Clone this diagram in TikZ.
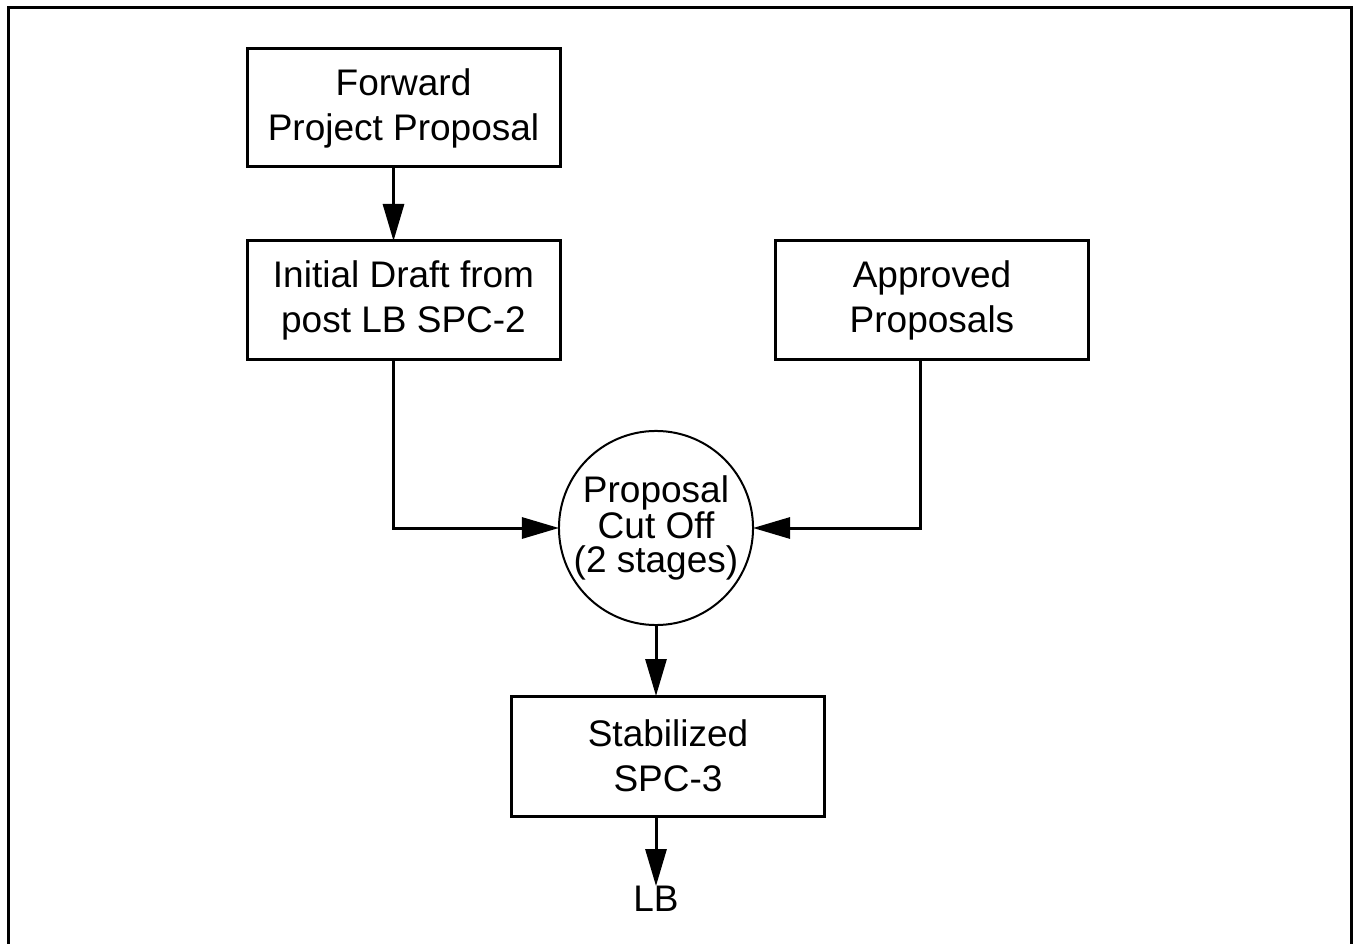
\documentclass[tikz,border=0pt]{standalone}
\usepackage{fontspec}
\setmainfont{Liberation Sans}
\usetikzlibrary{arrows.meta}
\begin{document}
\begin{tikzpicture}[x=1pt,y=-1pt,
  boxnode/.style={draw, line width=3pt, minimum width=313pt, minimum height=118pt, inner sep=0pt, outer sep=0pt, align=center, font=\fontsize{37}{45}\selectfont},
  circnode/.style={draw, circle, line width=2pt, minimum size=192pt, inner sep=0pt, outer sep=0pt, align=center, font=\fontsize{37}{34}\selectfont},
  arr/.style={line width=3pt, -{Triangle[length=37pt,width=21pt]}},
  plain/.style={inner sep=0pt, font=\fontsize{37}{45}\selectfont}]
\useasboundingbox (0,0) rectangle (1353,944);
\draw[line width=3pt] (8,944) -- (8,8) -- (1351,8) -- (1351,944);
\node[boxnode] (fwd) at (403.5,108) {Forward\\Project Proposal};
\node[boxnode] (init) at (403.5,300) {Initial Draft from\\post LB SPC-2};
\node[boxnode] (appr) at (932,300) {Approved\\Proposals};
\node[circnode] (circ) at (656,528) {Proposal\\Cut Off\\(2 stages)};
\node[boxnode, minimum height=120pt] (stab) at (668,756) {Stabilized\\SPC-3};
\node[plain] (lb) at (656,899) {LB};
\draw[arr] ([xshift=-10pt]fwd.south) -- ([xshift=-10pt]init.north);
\draw[arr] ([xshift=-10pt]init.south) |- (circ.west);
\draw[arr] ([xshift=-12pt]appr.south) |- (circ.east);
\draw[arr] (circ.south) -- (circ.south |- stab.north);
\draw[arr] (stab.south -| lb.north) -- (lb.north);
\end{tikzpicture}
\end{document}
